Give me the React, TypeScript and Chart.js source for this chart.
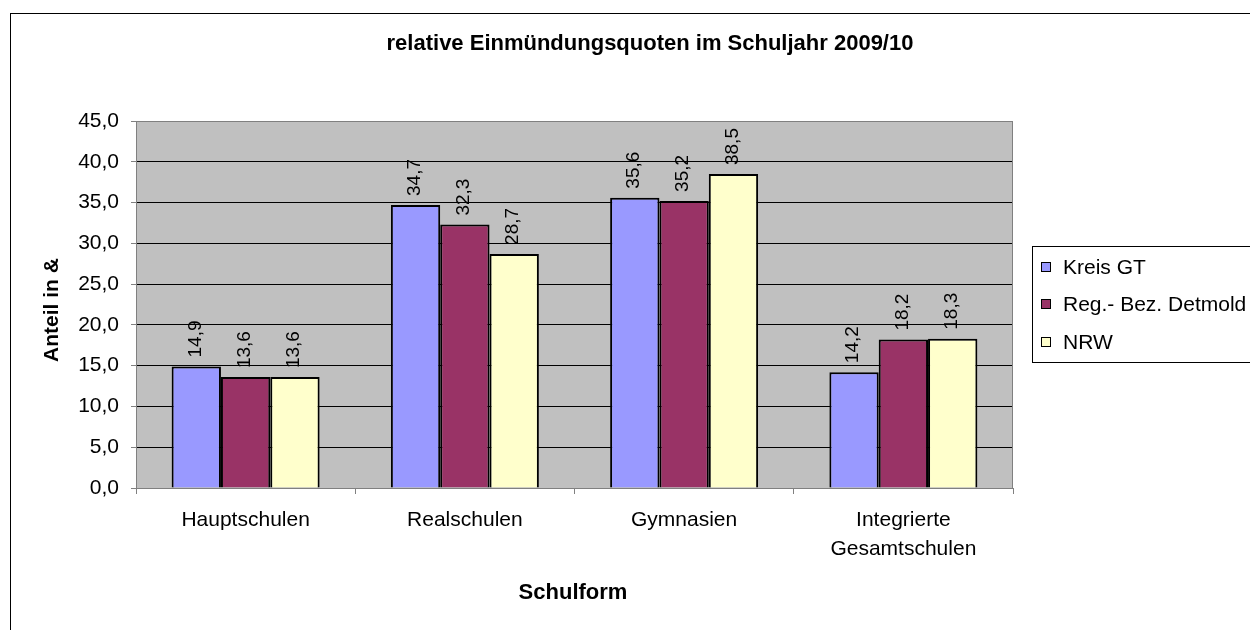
import React, { useEffect, useRef } from "react";
import { Chart, registerables } from "chart.js";

Chart.register(...registerables);

const categories: (string | string[])[] = [
  "Hauptschulen",
  "Realschulen",
  "Gymnasien",
  ["Integrierte", "Gesamtschulen"],
];
const kreisGT = [14.9, 34.7, 35.6, 14.2];
const regBezDetmold = [13.6, 32.3, 35.2, 18.2];
const nrw = [13.6, 28.7, 38.5, 18.3];
const seriesNames = ["Kreis GT", "Reg.- Bez. Detmold", "NRW"];
const seriesColors = ["#9999FF", "#993366", "#FFFFCC"];
const yTicks = [0, 5, 10, 15, 20, 25, 30, 35, 40, 45];
const titleText = "relative Einmündungsquoten im Schuljahr 2009/10";
const xTitle = "Schulform";
const yTitle = "Anteil in &";

const FONT = "'Liberation Sans', Arial, sans-serif";
const FS = 21;
const FS_LABEL = 19;

const fmt = (v: number) => v.toFixed(1).replace(".", ",");

export default function App() {
  const ref = useRef<HTMLCanvasElement | null>(null);
  useEffect(() => {
    if (!ref.current) return;
    const deco = {
      id: "deco",
      beforeDraw(chart: any) {
        const { ctx, chartArea: a } = chart;
        ctx.save();
        ctx.fillStyle = "#ffffff";
        ctx.fillRect(0, 0, chart.width, chart.height);
        ctx.strokeStyle = "#000000";
        ctx.lineWidth = 1;
        ctx.strokeRect(10.5, 13.5, 1400, 800);
        ctx.fillStyle = "#C0C0C0";
        ctx.fillRect(a.left, a.top, a.right - a.left, a.bottom - a.top);
        ctx.restore();
      },
      afterDatasetsDraw(chart: any) {
        const { ctx, chartArea: a } = chart;
        ctx.save();
        ctx.strokeStyle = "#808080";
        ctx.lineWidth = 1;
        ctx.beginPath();
        ctx.moveTo(a.left, a.top + 0.5);
        ctx.lineTo(a.right - 0.5, a.top + 0.5);
        ctx.lineTo(a.right - 0.5, a.bottom);
        ctx.stroke();
        // data labels
        ctx.fillStyle = "#000000";
        ctx.font = `${FS_LABEL}px ${FONT}`;
        ctx.textAlign = "left";
        ctx.textBaseline = "middle";
        chart.data.datasets.forEach((ds: any, di: number) => {
          const meta = chart.getDatasetMeta(di);
          meta.data.forEach((bar: any, i: number) => {
            ctx.save();
            ctx.translate(bar.x - 1, bar.y - 9);
            ctx.rotate(-Math.PI / 2);
            ctx.fillText(fmt(ds.data[i]), 0, 0);
            ctx.restore();
          });
        });
        // titles
        ctx.textAlign = "center";
        ctx.font = `bold 22px ${FONT}`;
        ctx.fillText(titleText, 650, 44);
        ctx.fillText(xTitle, 573, 593);
        ctx.font = `bold 21px ${FONT}`;
        ctx.save();
        ctx.translate(52, 310);
        ctx.rotate(-Math.PI / 2);
        ctx.fillText(yTitle, 0, 0);
        ctx.restore();
        // legend
        ctx.strokeStyle = "#000000";
        ctx.strokeRect(1032.5, 246.5, 300, 116);
        ctx.font = `${FS}px ${FONT}`;
        ctx.textAlign = "left";
        const rows = [267, 304, 342];
        seriesNames.forEach((n, i) => {
          ctx.fillStyle = seriesColors[i];
          ctx.fillRect(1042, rows[i] - 4, 9, 9);
          ctx.strokeStyle = "#000000";
          ctx.lineWidth = 1;
          ctx.strokeRect(1041.5, rows[i] - 4.5, 9, 9);
          ctx.fillStyle = "#000000";
          ctx.fillText(n, 1063, rows[i] + 1);
        });
        ctx.restore();
      },
    };
    const chart = new Chart(ref.current, {
      type: "bar",
      data: {
        labels: categories as any,
        datasets: [kreisGT, regBezDetmold, nrw].map((d, i) => ({
          label: seriesNames[i],
          data: d,
          backgroundColor: seriesColors[i],
          borderColor: "#000000",
          borderWidth: 2,
          categoryPercentage: 0.675,
          barPercentage: 1,
        })),
      },
      options: {
        responsive: false,
        animation: false,
        devicePixelRatio: 1,
        layout: { padding: { top: 121, right: 237, left: 0, bottom: 0 } },
        plugins: {
          legend: { display: false },
          title: { display: false },
          tooltip: { enabled: false },
        },
        scales: {
          y: {
            min: 0,
            max: 45,
            afterBuildTicks: (s: any) => {
              s.ticks = yTicks.map((v) => ({ value: v }));
            },
            afterFit: (s: any) => {
              s.width = 136;
            },
            ticks: {
              callback: (v: any) => fmt(Number(v)),
              color: "#000000",
              font: { family: FONT, size: FS },
              padding: 12,
            },
            grid: {
              color: (c: any) => (c.tick && (c.tick.value === 45 || c.tick.value === 0) ? "#808080" : "#000000"),
              tickColor: "#808080",
              tickLength: 5,
              lineWidth: 1,
            },
            border: { display: true, color: "#808080", width: 1 },
          },
          x: {
            afterFit: (s: any) => {
              s.height = 142;
            },
            ticks: {
              color: "#000000",
              font: { family: FONT, size: FS, lineHeight: 29 / FS },
              padding: 12,
              maxRotation: 0,
            },
            grid: {
              drawOnChartArea: false,
              offset: true,
              tickColor: "#808080",
              tickLength: 6,
            },
            border: { display: true, color: "#808080", width: 1 },
          },
        },
      },
      plugins: [deco],
    });
    return () => chart.destroy();
  }, []);
  return (
    <div style={{ position: "absolute", left: 0, top: 0, width: 1250, height: 630 }}>
      <canvas ref={ref} width={1250} height={630} style={{ width: 1250, height: 630 }} />
    </div>
  );
}
